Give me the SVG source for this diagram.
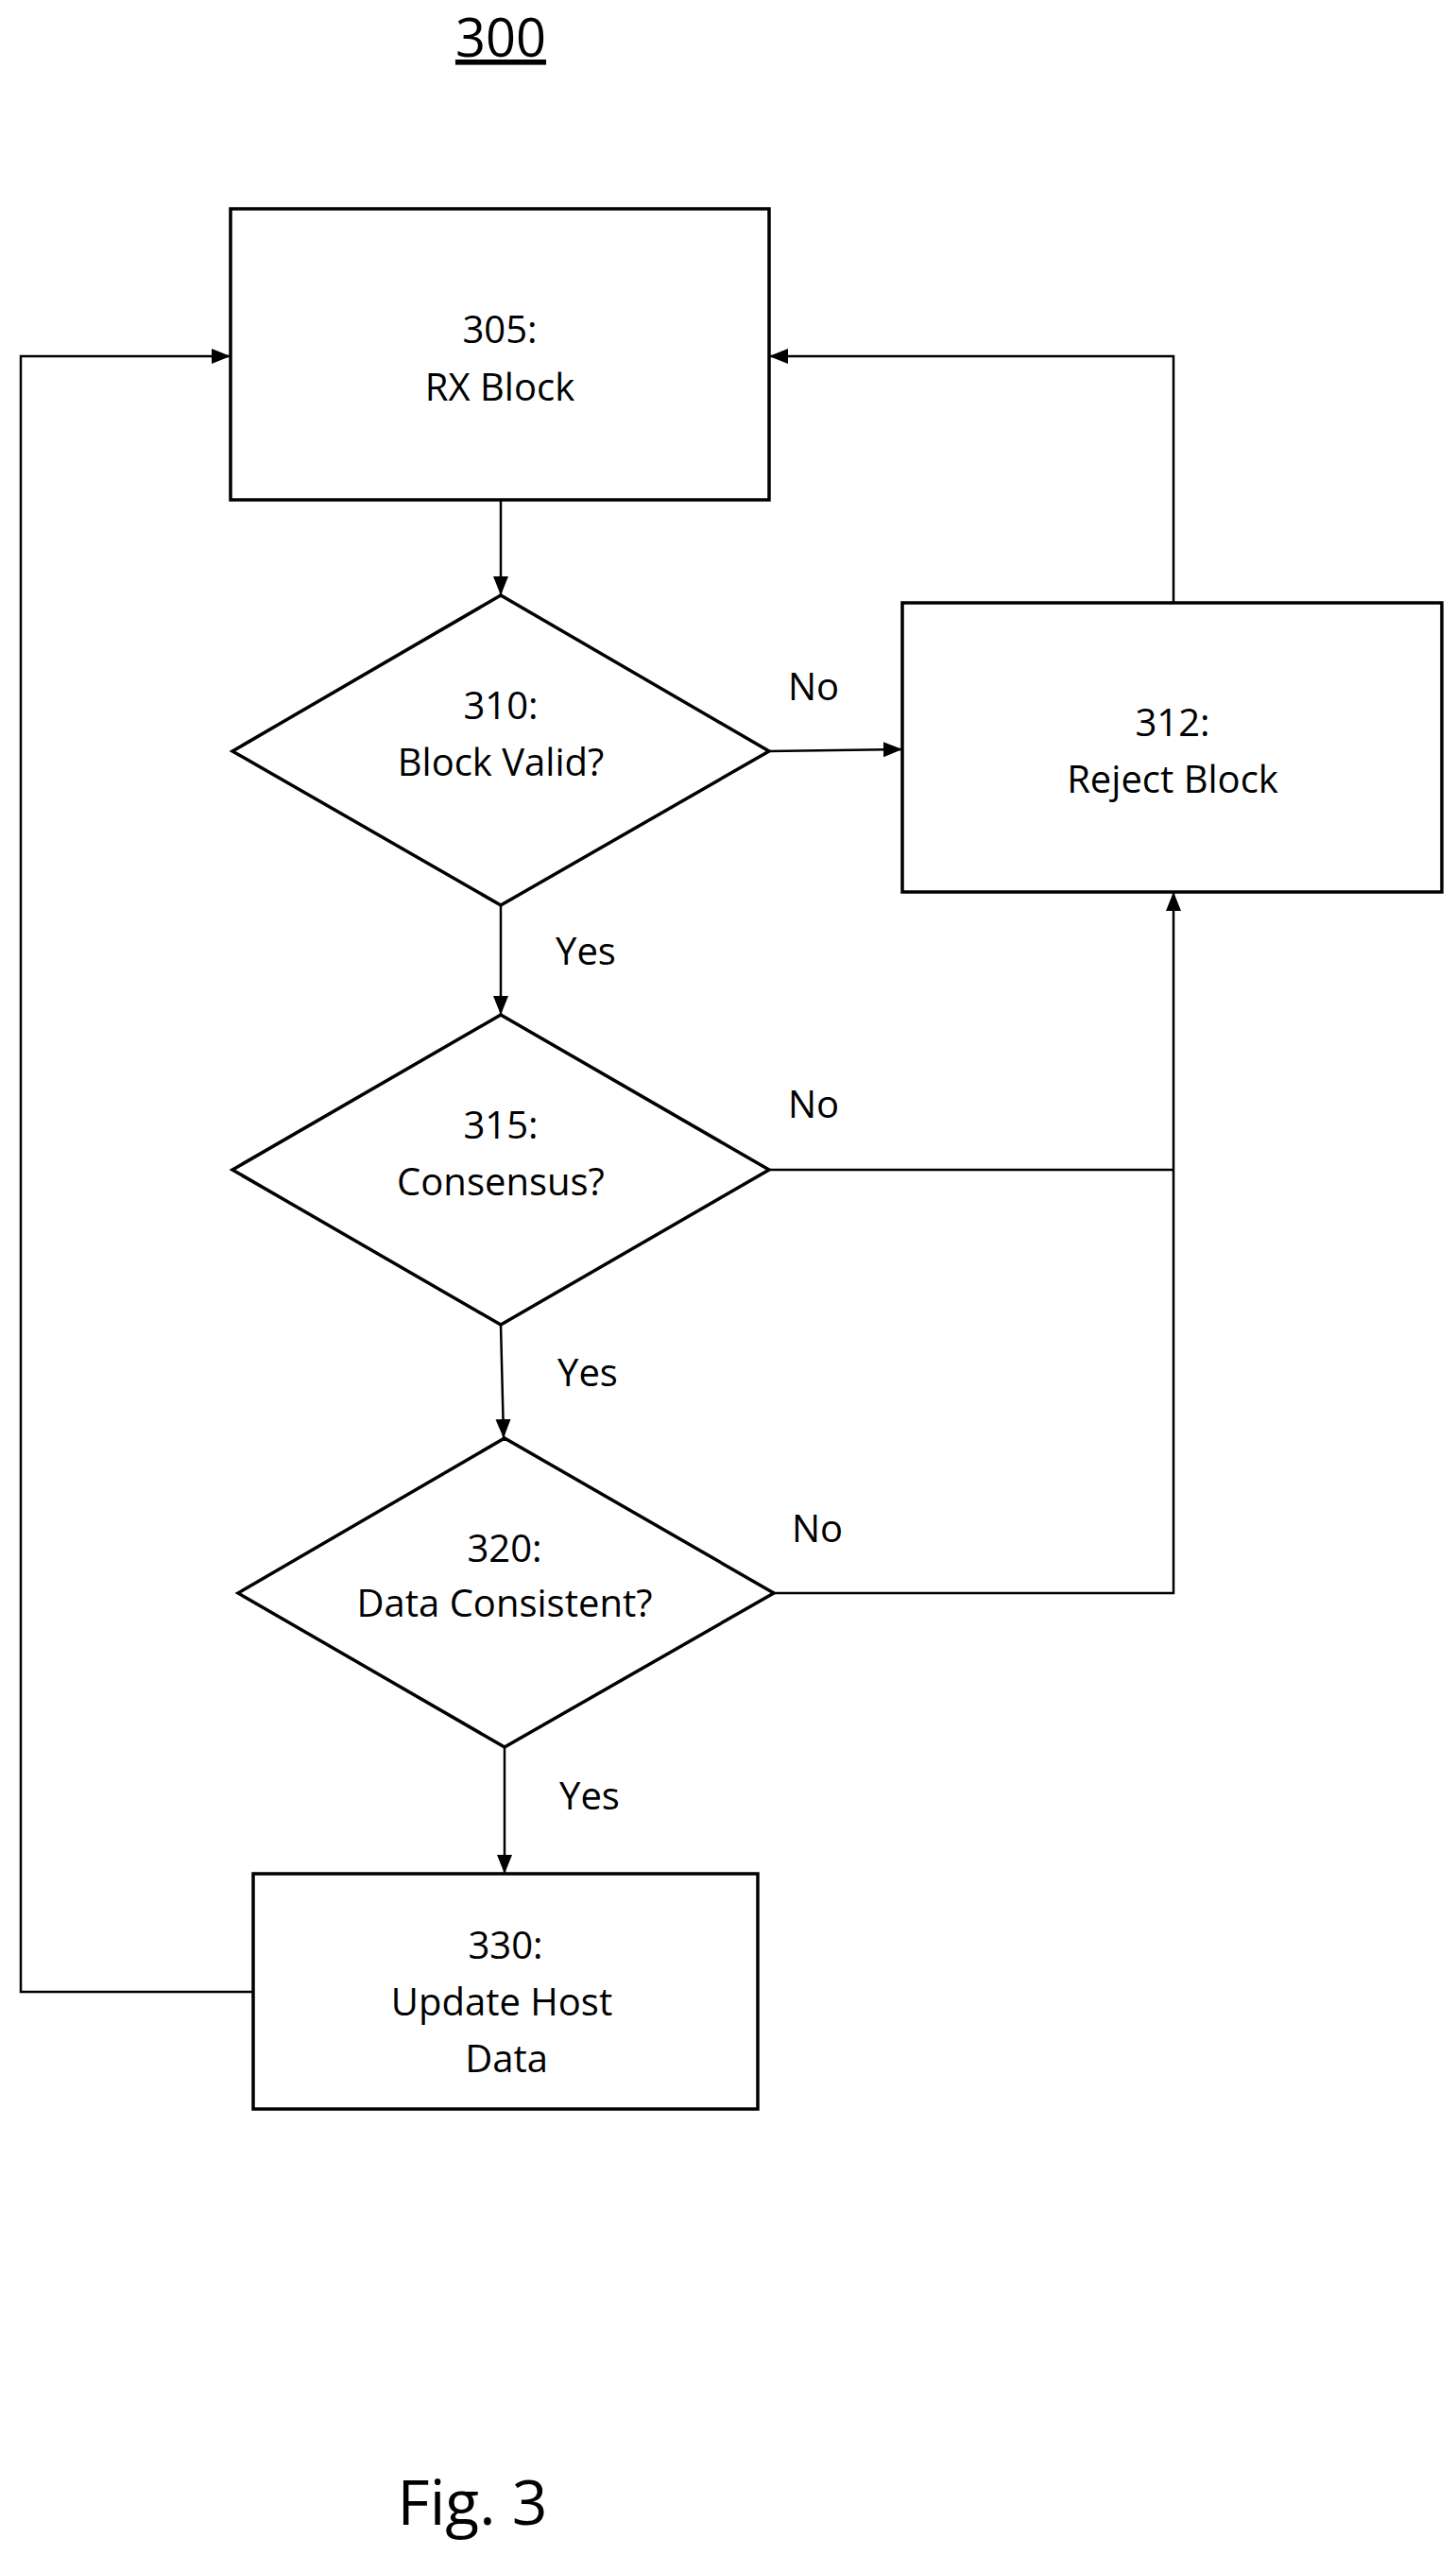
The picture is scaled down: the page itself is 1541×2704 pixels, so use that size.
<svg xmlns="http://www.w3.org/2000/svg" width="1541" height="2704" viewBox="0 0 1541 2704">
<style>
.s{fill:#fff;stroke:#000;stroke-width:3.5}
.c{fill:none;stroke:#000;stroke-width:2.5}
text{font-family:"Open Sans","Liberation Sans",sans-serif;font-size:40px;text-anchor:middle;fill:#000}
</style>
<defs><marker id="b" viewBox="0 0 10 10" refX="10" refY="5" markerWidth="20" markerHeight="20" orient="auto" markerUnits="userSpaceOnUse"><path d="M0,1L10,5L0,9z"/></marker></defs>
<text x="530" y="60" style="font-size:56px;text-decoration:underline">300</text>
<g id="connectors" class="c">
<path d="M530,529V630" marker-end="url(#b)"/>
<path d="M814,795L955,793" marker-end="url(#b)"/>
<path d="M1242,638V377H814" marker-end="url(#b)"/>
<path d="M530,958V1074" marker-end="url(#b)"/>
<path d="M814,1238H1242"/>
<path d="M819,1686H1242V944" marker-end="url(#b)"/>
<path d="M530,1402L533,1522" marker-end="url(#b)"/>
<path d="M534,1849V1983" marker-end="url(#b)"/>
<path d="M268,2108H22V377H244" marker-end="url(#b)"/>
</g>
<g id="n305"><rect class="s" x="244" y="221" width="570" height="308"/><text x="529" y="363">305:</text><text x="529" y="424">RX Block</text></g>
<g id="n310"><path class="s" d="M530,630L814,795L530,958L246,795Z"/><text x="530" y="761">310:</text><text x="530" y="821">Block Valid?</text></g>
<g id="n312"><rect class="s" x="955" y="638" width="571" height="306"/><text x="1241" y="779">312:</text><text x="1241" y="839">Reject Block</text></g>
<g id="n315"><path class="s" d="M530,1074L814,1238L530,1402L246,1238Z"/><text x="530" y="1205">315:</text><text x="530" y="1265">Consensus?</text></g>
<g id="n320"><path class="s" d="M534,1522L819,1686L534,1849L252,1686Z"/><text x="534" y="1653">320:</text><text x="534" y="1711">Data Consistent?</text></g>
<g id="n330"><rect class="s" x="268" y="1983" width="534" height="249"/><text x="535" y="2073">330:</text><text x="531" y="2133">Update Host</text><text x="536" y="2193">Data</text></g>
<g id="labels">
<text x="861" y="741">No</text><text x="620" y="1021">Yes</text>
<text x="861" y="1183">No</text><text x="622" y="1467">Yes</text>
<text x="865" y="1632">No</text><text x="624" y="1915">Yes</text>
</g>
<text x="500" y="2672" style="font-size:66px">Fig. 3</text>
</svg>
